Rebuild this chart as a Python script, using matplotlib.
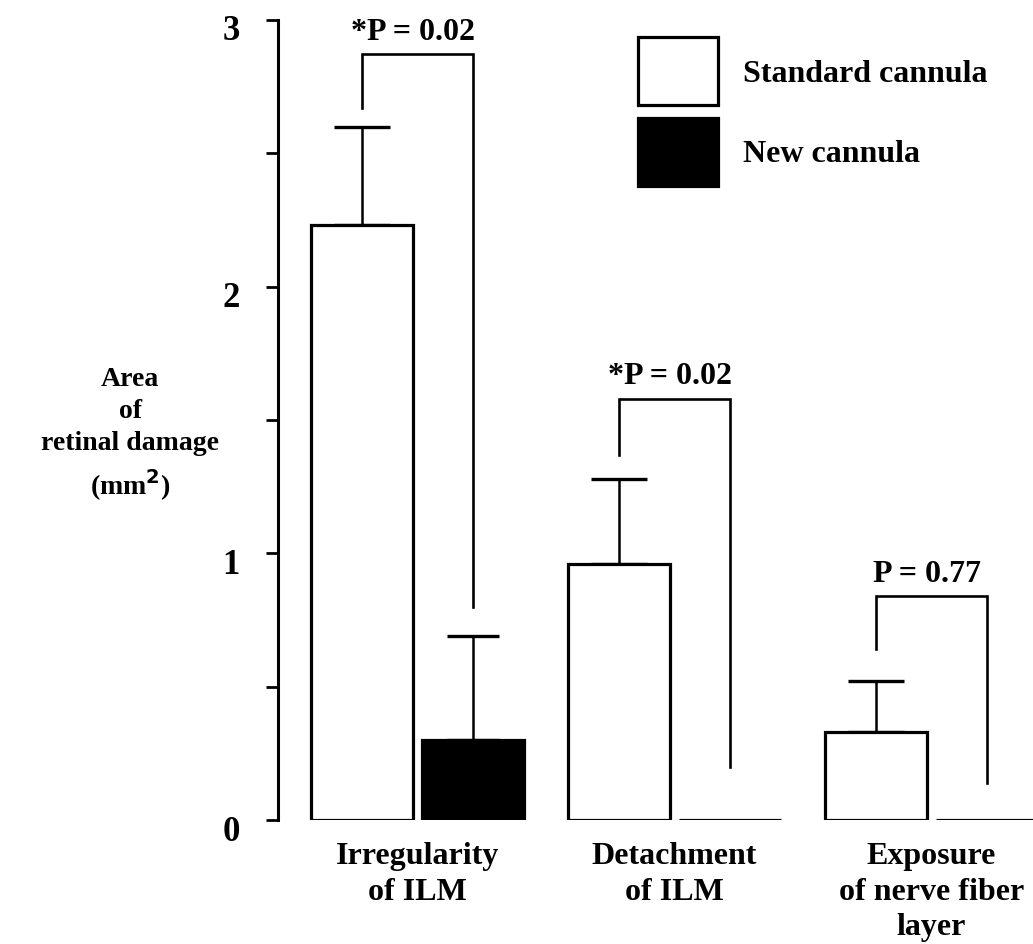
import matplotlib
matplotlib.use("Agg")
import matplotlib.pyplot as plt
import matplotlib.transforms as mtransforms
import numpy as np

plt.rcParams["font.family"] = ["Liberation Serif", "DejaVu Serif"]
plt.rcParams["font.weight"] = "bold"

# data
categories = ["Irregularity\nof ILM", "Detachment\nof ILM", "Exposure\nof nerve fiber\nlayer"]
standard = [2.23, 0.96, 0.33]
standard_err = [0.37, 0.32, 0.19]
new = [0.30, 0.0, 0.0]
new_err = [0.39, 0.0, 0.0]
p_labels = ["*P = 0.02", "*P = 0.02", "P = 0.77"]
bracket_left = [2.67, 1.37, 0.64]     # bottom of the left leg
bracket_top = [2.87, 1.58, 0.84]
bracket_right = [0.80, 0.20, 0.14]    # bottom of the right leg

x = np.arange(len(categories))
off, w = 0.216, 0.40
xs, xn = x - off, x + off

fig = plt.figure(figsize=(10.33, 9.45), dpi=100)
ax = fig.add_axes([0.269, 0.131, 0.731, 0.847])

ax.bar(xs, standard, w, color="white", edgecolor="black", linewidth=2.3,
       label="Standard cannula", zorder=2)
ax.bar(xn, new, w, color="black", edgecolor="black", linewidth=2.3,
       label="New cannula", zorder=2)
ax.errorbar(xs, standard, yerr=[np.zeros(3), standard_err], fmt="none",
            ecolor="black", elinewidth=1.8, capsize=20, capthick=2.4, zorder=1)
mask = np.array(new_err) > 0
ax.errorbar(xn[mask], np.array(new)[mask],
            yerr=[np.zeros(mask.sum()), np.array(new_err)[mask]], fmt="none",
            ecolor="black", elinewidth=1.8, capsize=19, capthick=2.4, zorder=1)

# significance brackets
for i in range(len(categories)):
    ax.plot([xs[i], xs[i], xn[i], xn[i]],
            [bracket_left[i], bracket_top[i], bracket_top[i], bracket_right[i]],
            color="black", lw=1.9, solid_joinstyle="miter")
    ax.annotate(p_labels[i], (x[i], bracket_top[i]), xytext=(-3, 11),
                textcoords="offset points", ha="center", va="baseline",
                fontsize=23, fontweight="bold")

ax.set_xlim(-0.543, 2.395)
ax.set_ylim(0, 3)
ax.set_yticks([0, 1, 2, 3])
ax.set_yticks([0.5, 1.5, 2.5], minor=True)
ax.tick_params(axis="y", which="both", direction="out", length=8.5, width=2,
               labelsize=25, pad=19)
shift = mtransforms.ScaledTranslation(0, -5 / 72, fig.dpi_scale_trans)
for lab in ax.get_yticklabels():
    lab.set_transform(lab.get_transform() + shift)
ax.set_xticks(x, categories)
ax.tick_params(axis="x", length=0, labelsize=23, pad=15)
for lab in ax.get_xticklabels():
    lab.set_linespacing(1.3)
for s in ("top", "right", "bottom"):
    ax.spines[s].set_visible(False)
ax.spines["left"].set_linewidth(2.2)

fig.text(0.126, 0.540, "Area\nof\nretinal damage\n(mm$^\\mathbf{2}$)", ha="center",
         va="center", fontsize=20, fontweight="bold", linespacing=1.38)

ax.legend(loc="upper left", bbox_to_anchor=(0.477, 0.978), frameon=False,
          fontsize=23, handlelength=2.5, handleheight=2.9, handletextpad=0.8,
          labelspacing=0.38, borderpad=0, borderaxespad=0)

fig.savefig("out.png", dpi=100)
